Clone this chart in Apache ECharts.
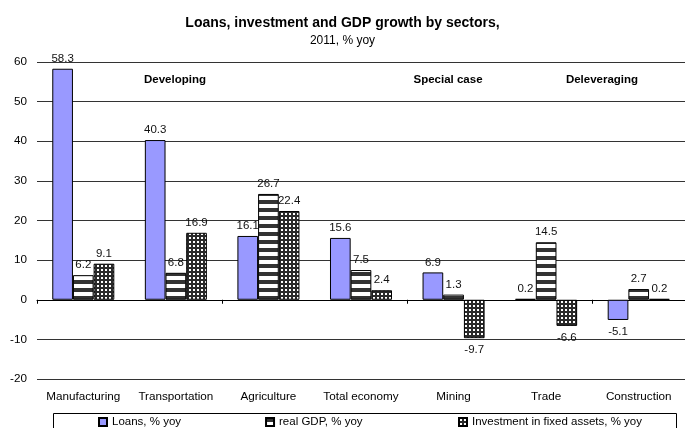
<!DOCTYPE html>
<html>
<head>
<meta charset="utf-8">
<script src="https://cdn.jsdelivr.net/npm/echarts@6/dist/echarts.min.js"></script>
<style>
  html, body { margin: 0; padding: 0; background: #fff; }
  #chart { width: 685px; height: 428px; }
</style>
</head>
<body>
<div id="chart"></div>
<script>
// Sectors and 2011 growth rates, % yoy
const sectors = ['Manufacturing', 'Transportation', 'Agriculture', 'Total economy', 'Mining', 'Trade', 'Construction'];
const loans = [58.3, 40.3, 16.1, 15.6, 6.9, 0.2, -5.1];
const realGdp = [6.2, 6.8, 26.7, 7.5, 1.3, 14.5, 2.7];
const investment = [9.1, 16.9, 22.4, 2.4, -9.7, -6.6, 0.2];
const seriesNames = ['Loans, % yoy', 'real GDP, % yoy', 'Investment in fixed assets, % yoy'];
const groupNotes = ['Developing', 'Special case', 'Deleveraging'];
const yTicks = { min: -20, max: 60, step: 10 };

const FONT = 'Liberation Sans, Arial, sans-serif';

// Horizontal black/white stripes
function stripePattern() {
  const c = document.createElement('canvas');
  c.width = 8; c.height = 8;
  const g = c.getContext('2d');
  g.fillStyle = '#ffffff'; g.fillRect(0, 0, 8, 8);
  g.fillStyle = '#333333'; g.fillRect(0, 0, 8, 4);
  return c;
}
// Dark fill with a grid of white dots
function dotPattern() {
  const c = document.createElement('canvas');
  c.width = 4; c.height = 4;
  const g = c.getContext('2d');
  g.fillStyle = '#2a2a2a'; g.fillRect(0, 0, 4, 4);
  g.fillStyle = '#ffffff'; g.fillRect(1, 1, 2, 2);
  return c;
}

// Negative values get their label under the bar
function withLabelSide(values) {
  return values.map(v => v < 0 ? { value: v, label: { position: 'bottom', distance: 6 } } : v);
}

const labelStyle = { show: true, position: 'top', distance: 4, color: '#111', fontFamily: FONT, fontSize: 11.5 };
const barBorder = { borderColor: '#000', borderWidth: 1 };
const legendBase = {
  top: 416,
  icon: 'rect',
  itemWidth: 8,
  itemHeight: 8,
  padding: 0,
  textStyle: { fontFamily: FONT, fontSize: 11.5, color: '#000' }
};

const chart = echarts.init(document.getElementById('chart'), null, { renderer: 'canvas' });
chart.setOption({
  animation: false,
  backgroundColor: '#fff',
  title: {
    text: 'Loans, investment and GDP growth by sectors,',
    subtext: '2011, % yoy',
    left: 'center',
    top: 11,
    itemGap: 5,
    textStyle: { fontFamily: FONT, fontSize: 14, fontWeight: 'bold', color: '#000' },
    subtextStyle: { fontFamily: FONT, fontSize: 12, color: '#000' }
  },
  grid: { left: 37, top: 62, width: 657, height: 317, containLabel: false },
  legend: [
    Object.assign({ data: seriesNames.slice(0, 2), left: 98, itemGap: 84 }, legendBase),
    Object.assign({ data: seriesNames.slice(2), left: 458 }, legendBase)
  ],
  xAxis: [
    {
      type: 'category',
      data: sectors,
      axisLine: { show: false, onZero: false },
      axisTick: { show: false },
      axisLabel: { margin: 12, color: '#000', fontFamily: FONT, fontSize: 11.7, interval: 0 }
    },
    {
      type: 'category',
      data: sectors,
      position: 'bottom',
      axisLine: { show: true, onZero: true, lineStyle: { color: '#000', width: 1 } },
      axisTick: { show: true, length: 4, lineStyle: { color: '#000' } },
      axisLabel: { show: false }
    }
  ],
  yAxis: {
    type: 'value',
    min: yTicks.min,
    max: yTicks.max,
    interval: yTicks.step,
    axisLine: { show: false },
    axisTick: { show: false },
    axisLabel: { margin: 10, color: '#000', fontFamily: FONT, fontSize: 11.7 },
    splitLine: { lineStyle: { color: '#333', width: 1 } }
  },
  series: [
    {
      name: seriesNames[0], type: 'bar', xAxisIndex: 0,
      data: withLabelSide(loans),
      barGap: '0%', barCategoryGap: '33%',
      itemStyle: Object.assign({ color: '#9999ff' }, barBorder),
      label: labelStyle
    },
    {
      name: seriesNames[1], type: 'bar', xAxisIndex: 0,
      data: withLabelSide(realGdp),
      barGap: '0%', barCategoryGap: '33%',
      itemStyle: Object.assign({ color: { image: stripePattern(), repeat: 'repeat' } }, barBorder),
      label: labelStyle
    },
    {
      name: seriesNames[2], type: 'bar', xAxisIndex: 0,
      data: withLabelSide(investment),
      barGap: '0%', barCategoryGap: '33%',
      itemStyle: Object.assign({ color: { image: dotPattern(), repeat: 'repeat' } }, barBorder),
      label: labelStyle
    }
  ],
  graphic: [
    // frame around the legend
    { type: 'rect', silent: true, shape: { x: 53.5, y: 413.5, width: 623, height: 30 }, style: { fill: null, stroke: '#000', lineWidth: 1 } },
    { type: 'text', x: 175, y: 80, style: { text: groupNotes[0], font: 'bold 11.5px ' + FONT, fill: '#000', textAlign: 'center', textVerticalAlign: 'middle' } },
    { type: 'text', x: 448, y: 80, style: { text: groupNotes[1], font: 'bold 11.5px ' + FONT, fill: '#000', textAlign: 'center', textVerticalAlign: 'middle' } },
    { type: 'text', x: 602, y: 80, style: { text: groupNotes[2], font: 'bold 11.5px ' + FONT, fill: '#000', textAlign: 'center', textVerticalAlign: 'middle' } }
  ]
});
</script>
</body>
</html>
